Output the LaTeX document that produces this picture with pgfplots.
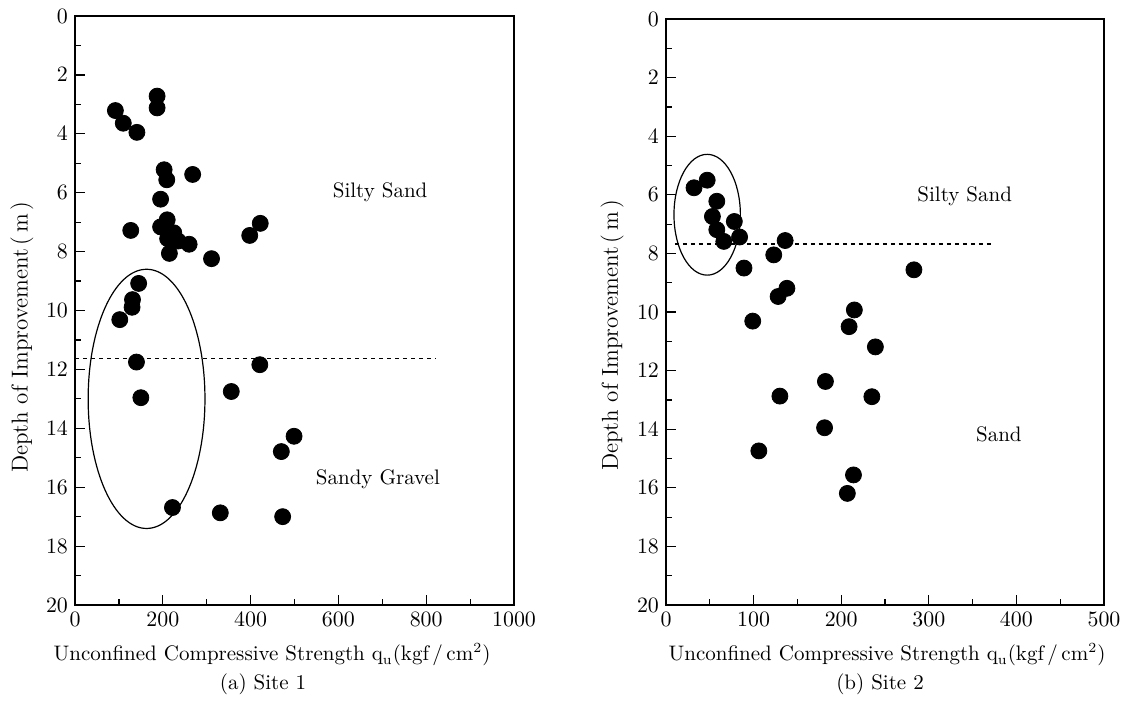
\documentclass[border=0pt]{standalone}
\usepackage{pgfplots}
\pgfplotsset{compat=1.18}
\begin{document}
\begin{tikzpicture}
\useasboundingbox (0,0) rectangle (561pt,-354pt);
\pgfplotsset{
  base/.style={scale only axis, y dir=reverse, ymin=0, ymax=20,
    ytick={0,2,...,20}, minor y tick num=1, tick align=inside,
    xtick pos=bottom, ytick pos=left,
    axis line style={line width=0.8pt},
    major tick length=5pt, minor tick length=3pt,
    every tick/.style={line width=0.6pt, black},
    ticklabel style={font=\fontsize{10.5}{12}\selectfont},
    /pgf/number format/1000 sep={},
    clip=false},
}
\begin{axis}[base, at={(37.5pt,-8pt)}, anchor=north west, width=219.5pt, height=294.5pt,
  xmin=0, xmax=1000, xtick={0,200,...,1000}, minor x tick num=1]
\addplot[only marks, mark=*, mark size=4pt, black] coordinates {
(92,3.21) (110,3.64) (141,3.95) (187,2.72) (187,3.12) (203,5.22) (209,5.56) (268,5.38)
(195,6.22) (127,7.28) (210,6.92) (195,7.16) (225,7.36) (211,7.56) (235,7.64) (260,7.75)
(215,8.06) (311,8.24) (398,7.45) (422,7.04) (145,9.08) (131,9.63) (130,9.89) (102,10.31)
(140,11.75) (421,11.84) (150,12.96) (356,12.75) (499,14.27) (470,14.79) (222,16.69)
(331,16.87) (473,17.0)};
\addplot[black, dash pattern=on 2pt off 2pt, line width=0.6pt] coordinates {(0,11.64) (823,11.64)};
\draw[line width=0.6pt] (axis cs:163,13.0) ellipse [x radius=29.2pt, y radius=64.8pt];
\node[font=\fontsize{10.5}{12}\selectfont] at (axis cs:695,6.0) {Silty Sand};
\node[font=\fontsize{10.5}{12}\selectfont] at (axis cs:690,15.74) {Sandy Gravel};
\end{axis}
\begin{axis}[base, at={(333pt,-9.5pt)}, anchor=north west, width=219pt, height=293pt,
  xmin=0, xmax=500, xtick={0,100,...,500}, minor x tick num=1]
\addplot[only marks, mark=*, mark size=4pt, black] coordinates {
(32,5.76) (47,5.50) (58,6.22) (53,6.74) (58,7.19) (66,7.59) (78,6.91) (84,7.44)
(136,7.56) (123,8.05) (89,8.50) (283,8.56) (128,9.47) (138,9.19) (99,10.31) (215,9.93)
(209,10.50) (239,11.19) (182,12.37) (130,12.87) (235,12.89) (181,13.95) (106,14.74)
(214,15.56) (207,16.19)};
\addplot[black, dash pattern=on 2pt off 2pt, line width=0.6pt] coordinates {(10,7.68) (372,7.68)};
\draw[line width=0.6pt] (axis cs:47,6.68) ellipse [x radius=16.6pt, y radius=30.2pt];
\node[font=\fontsize{10.5}{12}\selectfont] at (axis cs:341,6.05) {Silty Sand};
\node[font=\fontsize{10.5}{12}\selectfont] at (axis cs:380,14.17) {Sand};
\end{axis}
\begin{scope}[every node/.style={font=\fontsize{10.5}{12}\selectfont, inner sep=0pt}]
\node at (136pt,-327.5pt) {Unconfined Compressive Strength q$_{\mathrm{u}}$(kgf\,/\,cm$^{2}$)};
\node at (443.5pt,-327.5pt) {Unconfined Compressive Strength q$_{\mathrm{u}}$(kgf\,/\,cm$^{2}$)};
\node at (131.5pt,-342pt) {(a) Site 1};
\node at (440pt,-342pt) {(b) Site 2};
\node[rotate=90, font=\fontsize{11.5}{13}\selectfont] at (11pt,-168.5pt) {Depth of Improvement\,(\,m\,)};
\node[rotate=90, font=\fontsize{11.5}{13}\selectfont] at (306pt,-167.5pt) {Depth of Improvement\,(\,m\,)};
\end{scope}
\end{tikzpicture}
\end{document}
